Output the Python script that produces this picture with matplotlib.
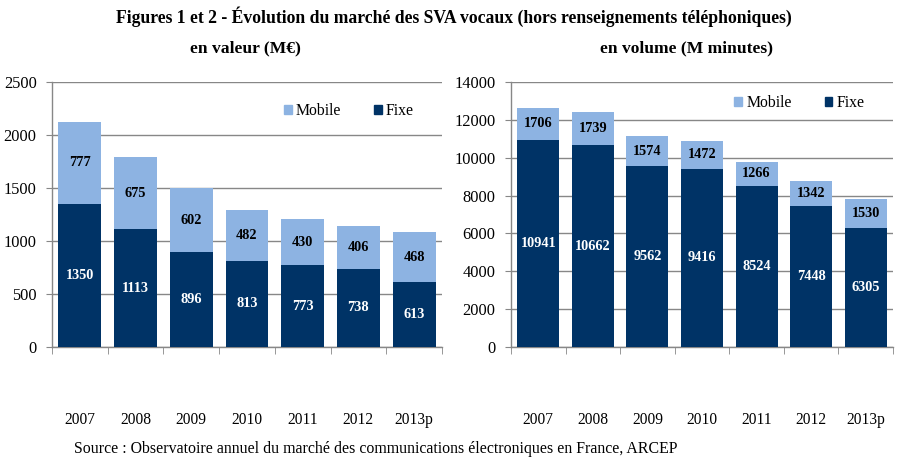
import matplotlib.pyplot as plt
import numpy as np
from matplotlib.patches import Patch

plt.rcParams["font.family"] = ["Liberation Serif", "DejaVu Serif"]

years = ["2007", "2008", "2009", "2010", "2011", "2012", "2013p"]

# en valeur (M€)
valeur_fixe = [1350, 1113, 896, 813, 773, 738, 613]
valeur_mobile = [777, 675, 602, 482, 430, 406, 468]

# en volume (M minutes)
volume_fixe = [10941, 10662, 9562, 9416, 8524, 7448, 6305]
volume_mobile = [1706, 1739, 1574, 1472, 1266, 1342, 1530]

c_fixe = "#003366"
c_mobile = "#8DB3E2"
c_grid = "#878787"


def draw_panel(ax, fixe, mobile, ymax, ystep, leg_x, leg_y):
    x = np.arange(len(years))
    w = 0.77
    ax.bar(x, fixe, width=w, color=c_fixe, zorder=3)
    ax.bar(x, mobile, width=w, bottom=fixe, color=c_mobile, zorder=3)
    for xi, f, m in zip(x, fixe, mobile):
        ax.text(xi, f / 2, str(f), ha="center", va="center", color="white",
                fontsize=10.3, fontweight="bold", zorder=4)
        ax.text(xi, f + m / 2, str(m), ha="center", va="center", color="black",
                fontsize=10.3, fontweight="bold", zorder=4)

    ax.set_xlim(-0.5, len(years) - 0.5)
    ax.set_ylim(0, ymax)
    ax.set_yticks(np.arange(0, ymax + 1, ystep))
    ax.yaxis.grid(True, color=c_grid, linewidth=1, zorder=0)
    ax.tick_params(axis="y", length=4, color=c_grid, labelsize=11.8, pad=7)

    ax.set_xticks(x, years)
    ax.set_xticks(np.arange(-0.5, len(years), 1), minor=True)
    ax.tick_params(axis="x", which="major", length=0, labelsize=11.2, pad=47)
    ax.tick_params(axis="x", which="minor", length=5, color=c_grid)

    for s in ["top", "right"]:
        ax.spines[s].set_visible(False)
    for s in ["left", "bottom"]:
        ax.spines[s].set_color(c_grid)
        ax.spines[s].set_linewidth(1)

    handles = [Patch(color=c_mobile, label="Mobile"), Patch(color=c_fixe, label="Fixe")]
    ax.legend(handles=handles, loc="center left", bbox_to_anchor=(leg_x, leg_y),
              ncol=2, frameon=False, fontsize=11.3, handlelength=0.5,
              handleheight=0.5, handletextpad=0.25, columnspacing=2.1,
              borderpad=0, borderaxespad=0)


fig = plt.figure(figsize=(9.07, 4.71), dpi=100)
ax1 = fig.add_axes([0.0573, 0.2633, 0.430, 0.5626])
ax2 = fig.add_axes([0.5634, 0.2633, 0.4212, 0.5626])

draw_panel(ax1, valeur_fixe, valeur_mobile, 2500, 500, 0.595, 0.89)
draw_panel(ax2, volume_fixe, volume_mobile, 14000, 2000, 0.585, 0.92)

fig.text(0.5, 1 - 17 / 471,
         "Figures 1 et 2 - Évolution du marché des SVA vocaux (hors renseignements téléphoniques)",
         ha="center", va="center", fontsize=12.7, fontweight="bold")
fig.text(245 / 907, 1 - 48 / 471, "en valeur (M€)", ha="center", va="center",
         fontsize=12.6, fontweight="bold")
fig.text(686 / 907, 1 - 48 / 471, "en volume (M minutes)", ha="center", va="center",
         fontsize=12.6, fontweight="bold")
fig.text(74 / 907, 1 - 449 / 471,
         "Source : Observatoire annuel du marché des communications électroniques en France, ARCEP",
         ha="left", va="center", fontsize=11.4)

fig.savefig("out.png", dpi=100)
